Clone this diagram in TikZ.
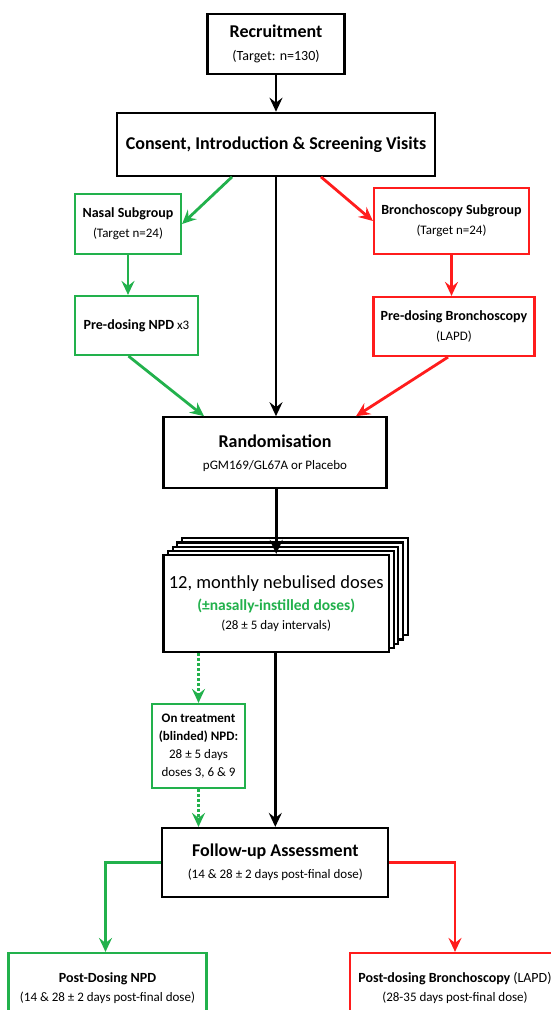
\documentclass[tikz,border=0pt]{standalone}
\usepackage{fontspec}
\setmainfont{Carlito}
\usepackage{xcolor}
\usetikzlibrary{arrows.meta}
\definecolor{nasalgreen}{HTML}{22B14C}
\definecolor{bronchred}{HTML}{FF1C1C}
\newcommand{\hdfont}{\fontsize{18}{21}\selectfont\bfseries}
\newcommand{\smfont}{\fontsize{13}{16}\selectfont}
\newcommand{\lbfont}{\fontsize{14}{16}\selectfont\bfseries}

\begin{document}
\begin{tikzpicture}[x=1pt, y=-1pt, >={Stealth[length=14pt,width=13pt,inset=5pt]},
  box/.style={draw, line width=2.2pt, fill=white, align=center, inner sep=2pt, font=\smfont},
  gbox/.style={box, draw=nasalgreen},
  rbox/.style={box, draw=bronchred},
  flow/.style={->, line width=2.8pt},
  gflow/.style={flow, nasalgreen},
  rflow/.style={flow, bronchred},
  gdots/.style={gflow, dash pattern=on 2.8pt off 2.2pt}]
  \useasboundingbox (0,0) rectangle (551,1010);
  \clip (0,0) rectangle (551,1010);

  % main column
  \node[box, minimum width=137, minimum height=60] (rec) at (276,44)
    {{\hdfont Recruitment}\\[7pt]{\fontsize{14}{16}\selectfont (Target: n=130)}};
  \node[box, minimum width=318, minimum height=63] (consent) at (276,144.3)
    {\hdfont Consent, Introduction \& Screening Visits};
  \node[box, minimum width=223, minimum height=71] (rand) at (275,452.8)
    {{\hdfont Randomisation}\\[6pt]pGM169/GL67A or Placebo};
  \foreach \k in {4,3,2,1}
    \node[box, minimum width=225.6, minimum height=97] (stack\k) at (276.2+\k*4.65,603.5-\k*4.2) {};
  \node[box, minimum width=225.6, minimum height=97] (doses) at (276.2,603.5)
    {{\fontsize{18.5}{21}\selectfont 12, monthly nebulised doses}\\[6pt]
     {\fontsize{15.5}{17}\selectfont\bfseries\color{nasalgreen}(\textpm nasally-instilled doses)}\\[3pt]
     (28 \textpm{} 5 day intervals)};
  \node[box, minimum width=226, minimum height=69] (follow) at (275.3,862.5)
    {{\hdfont Follow-up Assessment}\\[6pt](14 \& 28 \textpm{} 2 days post-final dose)};

  % nasal arm
  \node[gbox, minimum width=106, minimum height=60] (nasal) at (128,224)
    {{\lbfont Nasal Subgroup}\\[4pt](Target n=24)};
  \node[gbox, minimum width=123, minimum height=59] (prenpd) at (136.5,325.5)
    {{\lbfont Pre-dosing NPD} x3};
  \node[gbox, minimum width=93, minimum height=84] (ontreat) at (198.5,746)
    {{\bfseries On treatment}\\[2pt]{\bfseries (blinded) NPD:}\\[2pt]28 \textpm{} 5 days\\[2pt]doses 3, 6 \& 9};
  \node[gbox, minimum width=198, minimum height=70] (postnpd) at (107.5,988)
    {{\lbfont Post-Dosing NPD}\\[3pt](14 \& 28 \textpm{} 2 days post-final dose)};

  % bronchoscopy arm
  \node[rbox, minimum width=155, minimum height=66] (bronch) at (451.5,221)
    {{\lbfont Bronchoscopy Subgroup}\\[4pt](Target n=24)};
  \node[rbox, minimum width=161, minimum height=59] (prebron) at (454,326.5)
    {{\lbfont Pre-dosing Bronchoscopy}\\[4pt](LAPD)};
  \node[rbox, minimum width=210, minimum height=70] (postbron) at (455,988)
    {{\lbfont Post-dosing Bronchoscopy} {\fontsize{14}{16}\selectfont (LAPD)}\\[3pt](28-35 days post-final dose)};

  % connectors
  \draw[flow] (rec) -- (consent);
  \draw[flow] (consent) -- (consent |- rand.north);
  \draw[flow] (rand.south -| doses.north) -- (doses.north);
  \draw[flow] (doses.south -| follow.north) -- (follow.north);
  \draw[gflow] ([xshift=-44pt]consent.south) -- (nasal.east);
  \draw[gflow] (nasal.south) -- (nasal.south |- prenpd.north);
  \draw[gflow] ([xshift=-8pt]prenpd.south) -- ([xshift=-71pt]rand.north);
  \draw[gdots] (doses.south -| ontreat.north) -- (ontreat.north);
  \draw[gdots] (ontreat.south) -- (ontreat.south |- follow.north);
  \draw[gflow] (follow.west) -| ([xshift=-2pt]postnpd.north);
  \draw[rflow] ([xshift=45pt]consent.south) -- (bronch.west);
  \draw[rflow] (bronch.south) -- (bronch.south |- prebron.north);
  \draw[rflow] ([xshift=-6pt]prebron.south) -- ([xshift=81pt]rand.north);
  \draw[rflow] (follow.east) -| (postbron.north);
\end{tikzpicture}
\end{document}
